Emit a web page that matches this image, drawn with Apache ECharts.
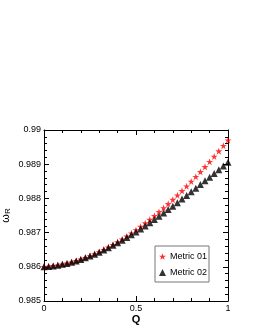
<!DOCTYPE html>
<html><head><meta charset="utf-8">
<script src="https://cdn.jsdelivr.net/npm/echarts@6/dist/echarts.min.js"></script>
<style>html,body{margin:0;padding:0;background:#fff}#c{width:255px;height:330px}</style>
</head><body><div id="c"></div>
<script>
const qValues = [0,0.025,0.05,0.075,0.1,0.125,0.15,0.175,0.2,0.225,0.25,0.275,0.3,0.325,0.35,0.375,0.4,0.425,0.45,0.475,0.5,0.525,0.55,0.575,0.6,0.625,0.65,0.675,0.7,0.725,0.75,0.775,0.8,0.825,0.85,0.875,0.9,0.925,0.95,0.975,1];
const metric01 = [0.986000,0.986010,0.986025,0.986045,0.986070,0.986100,0.986133,0.986172,0.986215,0.986263,0.986316,0.986373,0.986434,0.986499,0.986569,0.986643,0.986722,0.986804,0.986890,0.986981,0.987075,0.987173,0.987275,0.987381,0.987490,0.987604,0.987720,0.987841,0.987964,0.988091,0.988222,0.988356,0.988493,0.988633,0.988777,0.988923,0.989073,0.989225,0.989381,0.989539,0.989700];
const metric02 = [0.986000,0.986010,0.986025,0.986046,0.986071,0.986100,0.986135,0.986173,0.986217,0.986264,0.986315,0.986370,0.986429,0.986492,0.986558,0.986627,0.986700,0.986776,0.986854,0.986936,0.987020,0.987107,0.987196,0.987287,0.987381,0.987477,0.987574,0.987673,0.987774,0.987876,0.987980,0.988085,0.988191,0.988298,0.988405,0.988513,0.988622,0.988731,0.988841,0.988950,0.989060];
const seriesNames = ['Metric 01','Metric 02'];
const xTicks = [0, 0.5, 1];
const yTicks = [0.985, 0.986, 0.987, 0.988, 0.989, 0.99];

const starPath = 'path://M50,0 L61.8,35.1 L98.9,35.1 L68.9,56.7 L80.3,91.9 L50,70 L19.7,91.9 L31.1,56.7 L1.1,35.1 L38.2,35.1 Z';
const font = 'Liberation Sans, Arial, sans-serif';
const chart = echarts.init(document.getElementById('c'), null, {renderer:'canvas'});
const tickCommon = {show:true, inside:true, length:5, lineStyle:{color:'#000', width:1}};
const minorCommon = {show:true, length:3, lineStyle:{color:'#000', width:1}};
function xAxis(pos, labels){
  return {type:'value', position:pos, min:xTicks[0], max:xTicks[xTicks.length-1], interval:0.5,
    axisLine:{show:true, onZero:false, lineStyle:{color:'#000', width:1}},
    axisTick:tickCommon, minorTick:Object.assign({splitNumber:5}, minorCommon),
    splitLine:{show:false},
    axisLabel:{show:labels, color:'#000', fontSize:9, fontFamily:font, margin:3, formatter:v=>String(+v.toFixed(2))},
    name: labels ? 'Q' : '', nameLocation:'middle', nameGap:13, nameMoveOverlap:false,
    nameTextStyle:{color:'#000', fontSize:11, fontWeight:'bold', fontFamily:font}};
}
function yAxis(pos, labels){
  return {type:'value', position:pos, min:yTicks[0], max:yTicks[yTicks.length-1], interval:0.001,
    axisLine:{show:true, onZero:false, lineStyle:{color:'#000', width:1}},
    axisTick:tickCommon, minorTick:Object.assign({splitNumber:5}, minorCommon),
    splitLine:{show:false},
    axisLabel:{show:labels, color:'#000', fontSize:9, fontFamily:font, margin:3, formatter:v=>String(+v.toFixed(3))},
    name: labels ? '{a|ω}{b|R}' : '', nameLocation:'middle', nameGap:32, nameRotate:90, nameMoveOverlap:false,
    nameTextStyle:{color:'#000', fontFamily:font, rich:{a:{fontSize:11, color:'#000', fontFamily:font}, b:{fontSize:8, color:'#000', fontFamily:font, verticalAlign:'bottom', padding:[5,0,0,0]}}}};
}
chart.setOption({
  animation:false,
  backgroundColor:'#fff',
  grid:{left:44, top:130, width:184, height:171, containLabel:false, outerBoundsMode:'none'},
  xAxis:[xAxis('bottom', true), xAxis('top', false)],
  yAxis:[yAxis('left', true), yAxis('right', false)],
  legend:{orient:'vertical', left:155, top:246, padding:[6,2,5,4], itemGap:7,
    borderColor:'#777', borderWidth:1, backgroundColor:'#fff',
    itemWidth:7, itemHeight:7,
    textStyle:{color:'#000', fontSize:9, fontFamily:font, padding:[0,0,0,-1]},
    data:[{name:seriesNames[0], icon:starPath}, {name:seriesNames[1], icon:'triangle'}]},
  series:[
    {name:seriesNames[0], type:'scatter', xAxisIndex:0, yAxisIndex:0, symbol:starPath, symbolSize:7,
     itemStyle:{color:'#ff0000'}, data:qValues.map((q,i)=>[q, metric01[i]])},
    {name:seriesNames[1], type:'scatter', xAxisIndex:0, yAxisIndex:0, symbol:'triangle', symbolSize:7,
     itemStyle:{color:'#000'}, data:qValues.map((q,i)=>[q, metric02[i]])}
  ]
});
</script></body></html>
